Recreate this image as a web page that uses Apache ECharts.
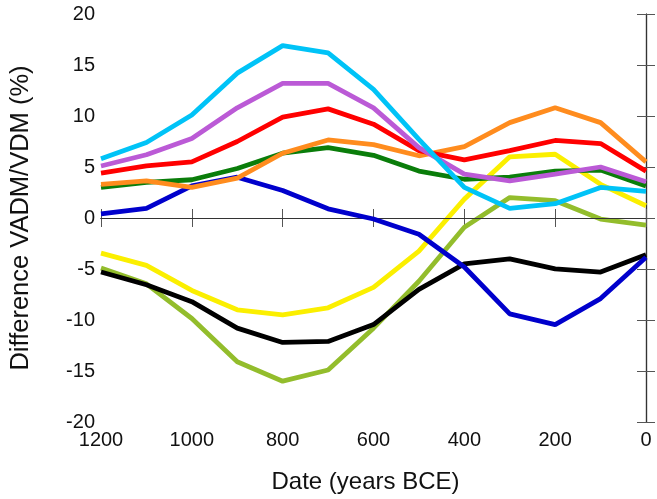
<!DOCTYPE html>
<html>
<head>
<meta charset="utf-8">
<script src="https://cdn.jsdelivr.net/npm/echarts@6/dist/echarts.min.js"></script>
<style>
  html, body { margin: 0; padding: 0; background: #fff; }
  #chart { width: 657px; height: 499px; }
</style>
</head>
<body>
<div id="chart"></div>
<script>
// years BCE
const years = [1200, 1100, 1000, 900, 800, 700, 600, 500, 400, 300, 200, 100, 0];
const xTicks = [1200, 1000, 800, 600, 400, 200, 0];
const yTicks = [-20, -15, -10, -5, 0, 5, 10, 15, 20];

// difference values (%)
const cyan = [5.8, 7.4, 10.1, 14.2, 16.9, 16.2, 12.6, 7.7, 3.0, 0.95, 1.4, 3.0, 2.6];
const purple = [5.1, 6.2, 7.8, 10.8, 13.2, 13.2, 10.8, 6.9, 4.3, 3.65, 4.3, 5.0, 3.55];
const red = [4.4, 5.1, 5.5, 7.5, 9.9, 10.7, 9.2, 6.6, 5.7, 6.6, 7.6, 7.3, 4.6];
const green = [3.0, 3.5, 3.75, 4.85, 6.35, 6.9, 6.15, 4.6, 3.8, 4.0, 4.6, 4.7, 3.15];
const orange = [3.3, 3.65, 3.0, 3.9, 6.35, 7.65, 7.2, 6.1, 7.0, 9.35, 10.8, 9.35, 5.5];
const blue = [0.4, 0.95, 3.15, 4.0, 2.7, 0.9, -0.1, -1.6, -4.8, -9.4, -10.45, -7.9, -3.85];
const yellow = [-3.45, -4.65, -7.1, -9.0, -9.5, -8.8, -6.8, -3.25, 1.85, 6.0, 6.25, 3.3, 1.2];
const olive = [-4.9, -6.45, -9.85, -14.1, -16.0, -14.9, -10.8, -6.2, -0.9, 2.0, 1.7, -0.1, -0.7];
const black = [-5.3, -6.55, -8.2, -10.8, -12.2, -12.1, -10.45, -7.0, -4.5, -4.0, -4.98, -5.3, -3.6];

const seriesList = [
  { name: "olive", data: olive, color: "#93bd2c" },
  { name: "black", data: black, color: "#000000" },
  { name: "yellow", data: yellow, color: "#fbef00" },
  { name: "blue", data: blue, color: "#0000cc" },
  { name: "green", data: green, color: "#0a7d0a" },
  { name: "orange", data: orange, color: "#ff8c1e" },
  { name: "red", data: red, color: "#ff0000" },
  { name: "purple", data: purple, color: "#bb5ad6" },
  { name: "cyan", data: cyan, color: "#00c3f7" },
];

const font = "Liberation Sans, Arial, sans-serif";
const axisLine = { show: true, lineStyle: { color: "#333", width: 1.2 } };
const tick = { show: true, inside: false, length: 9, lineStyle: { color: "#555" } };

const series = seriesList.map((s, i) => ({
  name: s.name,
  type: "line",
  data: years.map((y, k) => [y, s.data[k]]),
  symbol: "none",
  lineStyle: { color: s.color, width: 4.8 },
  itemStyle: { color: s.color },
  z: 2 + i,
  animation: false,
}));

// zero line
series[0].markLine = {
  silent: true,
  symbol: "none",
  label: { show: false },
  lineStyle: { color: "#333", width: 1, type: "solid" },
  data: [{ yAxis: 0 }],
  animation: false,
};

const option = {
  backgroundColor: "#fff",
  animation: false,
  grid: { left: 91, right: 11, top: 14, bottom: 75 },
  xAxis: [
    {
      type: "value",
      inverse: true,
      min: 0,
      max: 1200,
      interval: 200,
      name: "Date (years BCE)",
      nameLocation: "middle",
      nameGap: 48,
      nameTextStyle: { fontFamily: font, fontSize: 24, color: "#111", padding: [0, 16, 0, 0] },
      axisLine: axisLine,
      axisTick: tick,
      axisLabel: {
        fontFamily: font, fontSize: 20, color: "#111", margin: 8,
        customValues: xTicks,
        formatter: (v) => String(v),
      },
      splitLine: { show: false },
    },
    {
      type: "value",
      position: "top",
      inverse: true,
      min: 0,
      max: 1200,
      interval: 200,
      axisLine: axisLine,
      axisTick: tick,
      axisLabel: { show: false },
      splitLine: { show: false },
    },
  ],
  yAxis: [
    {
      type: "value",
      min: -20,
      max: 20,
      interval: 5,
      name: "Difference VADM/VDM (%)",
      nameLocation: "middle",
      nameGap: 67,
      nameTextStyle: { fontFamily: font, fontSize: 25.5, color: "#111" },
      axisLine: axisLine,
      axisTick: tick,
      axisLabel: {
        fontFamily: font, fontSize: 20, color: "#111", margin: 6,
        customValues: yTicks,
      },
      splitLine: { show: false },
    },
    {
      type: "value",
      position: "right",
      min: -20,
      max: 20,
      interval: 5,
      axisLine: axisLine,
      axisTick: tick,
      axisLabel: { show: false },
      splitLine: { show: false },
    },
  ],
  series: series,
};

const chart = echarts.init(document.getElementById("chart"), null, { renderer: "canvas" });
chart.setOption(option);
</script>
</body>
</html>
